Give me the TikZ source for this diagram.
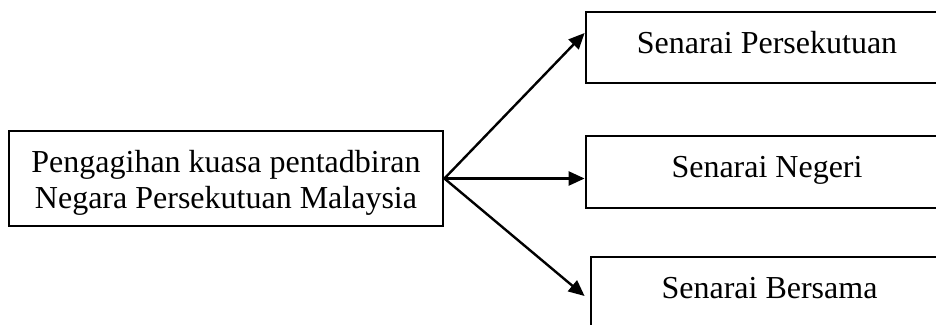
\documentclass[tikz,border=0pt]{standalone}
\usepackage{fontspec}
\setmainfont{Liberation Serif}
\usetikzlibrary{arrows.meta}
\begin{document}
\begin{tikzpicture}[x=1pt,y=-1pt,
  box/.style={draw,line width=2.8pt,inner sep=0pt,font=\fontsize{32}{36}\selectfont},
  rbox/.style={box,text height=22pt,text depth=11pt},
  arr/.style={line width=2.4pt,-{Triangle[length=16pt,width=14pt]}}]
\useasboundingbox (0,0) rectangle (936,324);
\clip (0,0) rectangle (936,324);
\node[box,align=center,minimum width=434pt,minimum height=95pt,text height=59pt,text depth=0pt] (L) at (226,178.5)
  {Pengagihan kuasa pentadbiran\\Negara Persekutuan Malaysia};
\node[rbox,minimum width=362pt,minimum height=71pt] (T) at (767,47.5) {Senarai Persekutuan};
\node[rbox,minimum width=362pt,minimum height=72pt] (M) at (767,172) {Senarai Negeri};
\node[rbox,minimum width=357pt,minimum height=71pt] (B) at (769.5,292.5) {Senarai Bersama};
\draw[arr] (L.east) -- ([yshift=14.5pt]T.west);
\draw[arr] (L.east) -- (M.west |- L.east);
\draw[arr] (L.east) -- ([xshift=-5pt,yshift=-3.5pt]B.west);
\end{tikzpicture}
\end{document}
